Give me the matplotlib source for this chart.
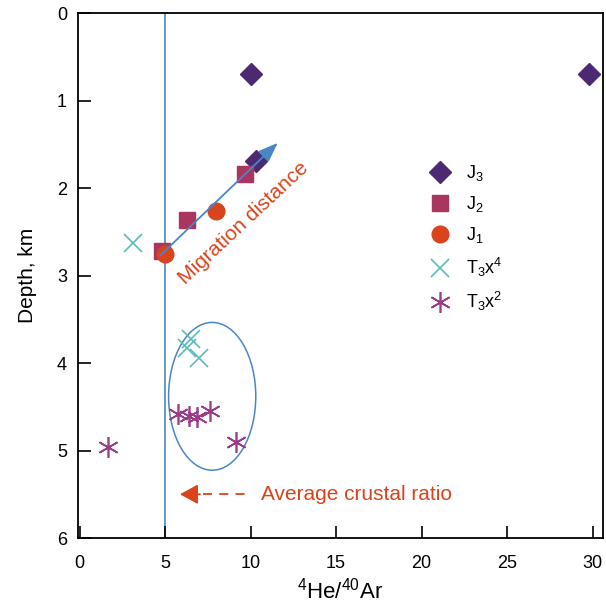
import matplotlib.pyplot as plt
from matplotlib.patches import Ellipse

plt.rcParams['font.family'] = ['Liberation Sans', 'DejaVu Sans']
plt.rcParams['mathtext.fontset'] = 'custom'
plt.rcParams['mathtext.rm'] = 'Liberation Sans'
plt.rcParams['mathtext.it'] = 'Liberation Sans:italic'

# data
j3_x = [10.0, 29.8, 10.3]
j3_y = [0.69, 0.69, 1.69]
j2_x = [9.65, 6.27, 4.8]
j2_y = [1.84, 2.36, 2.72]
j1_x = [8.0, 4.97]
j1_y = [2.26, 2.75]
t3x4_x = [3.1, 6.5, 6.3, 7.0]
t3x4_y = [2.63, 3.72, 3.83, 3.94]
t3x2_x = [1.66, 5.75, 6.4, 6.85, 7.6, 9.12]
t3x2_y = [4.96, 4.58, 4.60, 4.62, 4.55, 4.90]
xticks = [0, 5, 10, 15, 20, 25, 30]
yticks = [0, 1, 2, 3, 4, 5, 6]

blue = '#4a86c5'
red = '#d9441c'

fig = plt.figure(figsize=(6.06, 6.02), dpi=100)
ax = fig.add_axes([0.1287, 0.1063, 0.866, 0.8717])

ax.axvline(5, color=blue, lw=1.2, zorder=1)

ax.plot(j3_x, j3_y, 'D', color='#4b2a72', ms=11, ls='none', label=r'J$_3$')
ax.plot(j2_x, j2_y, 's', color='#a8365f', ms=12, ls='none', label=r'J$_2$')
ax.plot(j1_x, j1_y, 'o', color=red, ms=12, ls='none', label=r'J$_1$')
ax.plot(t3x4_x, t3x4_y, 'x', color='#5bbcb8', ms=13, mew=1.2, ls='none', label=r'T$_3$x$^4$')
ax.plot(t3x2_x, t3x2_y, marker=(6, 2, 0), color='#9c3a8a', ms=15, mew=1.2, ls='none', label=r'T$_3$x$^2$')

# migration arrow
ax.annotate('', xy=(11.7, 1.46), xytext=(4.6, 2.79),
            arrowprops=dict(arrowstyle='-|>,head_length=1.2,head_width=0.45', color=blue, lw=1.3))
ax.text(9.6, 2.4, 'Migration distance', color=red, fontsize=15, rotation=43,
        ha='center', va='center', rotation_mode='anchor')

ax.add_patch(Ellipse((7.75, 4.38), 5.1, 1.69, fill=False, ec=blue, lw=1.1))

# average crustal ratio
ax.annotate('', xy=(5.7, 5.5), xytext=(7.2, 5.5),
            arrowprops=dict(arrowstyle='-|>,head_length=1.1,head_width=0.6', color=red, lw=1.3))
ax.plot([7.2, 9.9], [5.5, 5.5], color=red, lw=1.3, ls=(0, (5, 4)))
ax.text(10.6, 5.5, 'Average crustal ratio', color=red, fontsize=15, va='center')

ax.set_xlim(-0.1, 30.6)
ax.set_ylim(6, 0)
ax.set_xticks(xticks)
ax.set_yticks(yticks)
ax.tick_params(direction='in', length=9, width=1.2, labelsize=13, pad=12)
ax.tick_params(axis='y', pad=8)
for s in ax.spines.values():
    s.set_linewidth(1.3)

ax.set_xlabel(r'$^{4}$He/$^{40}$Ar', fontsize=16, labelpad=4)
ax.set_ylabel('Depth, km', fontsize=15, labelpad=14)

ax.legend(loc='upper left', bbox_to_anchor=(0.625, 0.745), frameon=False, fontsize=13,
          handletextpad=0.4, labelspacing=0.6, numpoints=1)

fig.savefig('out.png', dpi=100)
